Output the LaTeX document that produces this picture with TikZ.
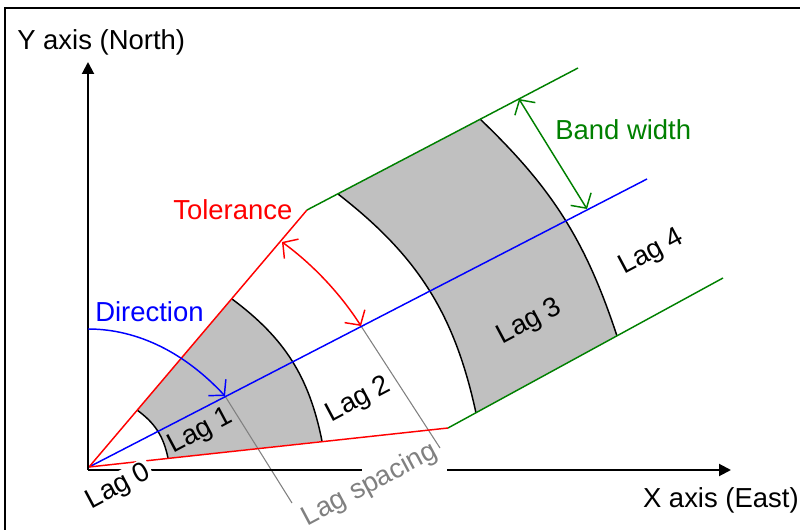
\documentclass[tikz,border=0pt]{standalone}
\usepackage{fontspec}
\setmainfont{Liberation Sans}
\usetikzlibrary{arrows.meta}
\definecolor{bandgreen}{RGB}{0,128,0}
\definecolor{lagfill}{RGB}{192,192,192}
\definecolor{spacegray}{RGB}{128,128,128}
\tikzset{
  lbl/.style={font=\fontsize{20.6}{24}\selectfont, inner sep=0pt},
  laglbl/.style={lbl, rotate=28},
  axisline/.style={line width=1.5pt, -{Triangle[length=9pt,width=9pt]}},
  ray/.style={line width=1.1pt},
  arcline/.style={line width=1.1pt, black},
  dblbarb/.style={line width=1.1pt, arrows={Straight Barb[length=8pt,width=18pt]-Straight Barb[length=8pt,width=18pt]}},
  onebarb/.style={line width=1.1pt, arrows={-Straight Barb[length=8pt,width=18pt]}},
  spaceline/.style={line width=0.8pt, spacegray}
}
\begin{document}
\begin{tikzpicture}[x=0.75pt,y=-0.75pt]
\useasboundingbox (0,0) rectangle (800,530);
% frame
\draw[line width=1.5pt] (5,540) |- (810,8);

% key points
\coordinate (O) at (88,470);
\coordinate (A) at (89,467);
\coordinate (Ytip) at (88,62);
\coordinate (Xtip) at (731,470);
\coordinate (XgapL) at (362,470);
\coordinate (XgapR) at (447,470);
\coordinate (T1) at (307,210);
\coordinate (T2) at (448,428);
\coordinate (G1) at (578,68);
\coordinate (G2) at (723,278);
\coordinate (D) at (647,179);
% lag boundaries (top / bottom ends)
\coordinate (a0t) at (137,410); \coordinate (a0b) at (168,458);
\coordinate (a1t) at (232,299); \coordinate (a1b) at (322,441);
\coordinate (a2t) at (338,194); \coordinate (a2b) at (476,413);
\coordinate (a3t) at (480,119); \coordinate (a3b) at (617,336);
% lag centres and helpers
\coordinate (L1c) at (225,396);
\coordinate (L2c) at (361,326);
\coordinate (S1e) at (292,503);
\coordinate (S2e) at (440,448);
\coordinate (R2) at (282,242);
\coordinate (B1) at (519,99);
\coordinate (B2) at (587,209);
\coordinate (Ystart) at (88,329);

% shaded lags
\fill[lagfill] (a0t) -- (a1t) to[bend left=21] (a1b) -- (a0b) to[bend right=21] (a0t) -- cycle;
\fill[lagfill] (a2t) -- (a3t) to[bend left=14] (a3b) -- (a2b) to[bend right=20] (a2t) -- cycle;

% lag spacing guide lines
\draw[spaceline] (L1c) -- (S1e);
\draw[spaceline] (L2c) -- (S2e);

% lag boundary arcs
\draw[arcline] (a0t) to[bend left=21] (a0b);
\draw[arcline] (a1t) to[bend left=21] (a1b);
\draw[arcline] (a2t) to[bend left=20] (a2b);
\draw[arcline] (a3t) to[bend left=14] (a3b);

% direction, tolerance, band
\draw[ray, blue] (A) -- (D);
\draw[ray, red] (T1) -- (A) -- (T2);
\draw[ray, bandgreen] (T1) -- (G1);
\draw[ray, bandgreen] (T2) -- (G2);

% axes
\draw[axisline] (O) -- (Ytip);
\draw[line width=1.5pt] (O) -- (XgapL);
\draw[axisline] (XgapR) -- (Xtip);

% dimension arrows
\draw[dblbarb, red] (L2c) .. controls (340.5,293.9) and (312.8,264.4) .. (R2);
\draw[dblbarb, bandgreen] (B1) -- (B2);
\draw[onebarb, blue] (Ystart) .. controls (138,329) and (185,353) .. (L1c);

% labels
\node[lbl, anchor=base west] (ylab) at (17,50) {Y axis (North)};
\node[lbl, anchor=base east] (xlab) at (799,508) {X axis (East)};
\node[lbl, anchor=base west, text=red] (tol) at (173,220) {Tolerance};
\node[lbl, anchor=base west, text=blue] (dir) at (95,322) {Direction};
\node[lbl, anchor=base west, text=bandgreen] (band) at (555,140) {Band width};
\node[laglbl, fill=white, inner sep=1.5pt] (lag0) at (119,487) {Lag 0};
\node[laglbl] (lag1) at (201,432) {Lag 1};
\node[laglbl] (lag2) at (359,400) {Lag 2};
\node[laglbl] (lag3) at (530,322) {Lag 3};
\node[laglbl] (lag4) at (652,253) {Lag 4};
\node[laglbl, text=spacegray] (lagsp) at (370,485) {Lag spacing};
\end{tikzpicture}
\end{document}
